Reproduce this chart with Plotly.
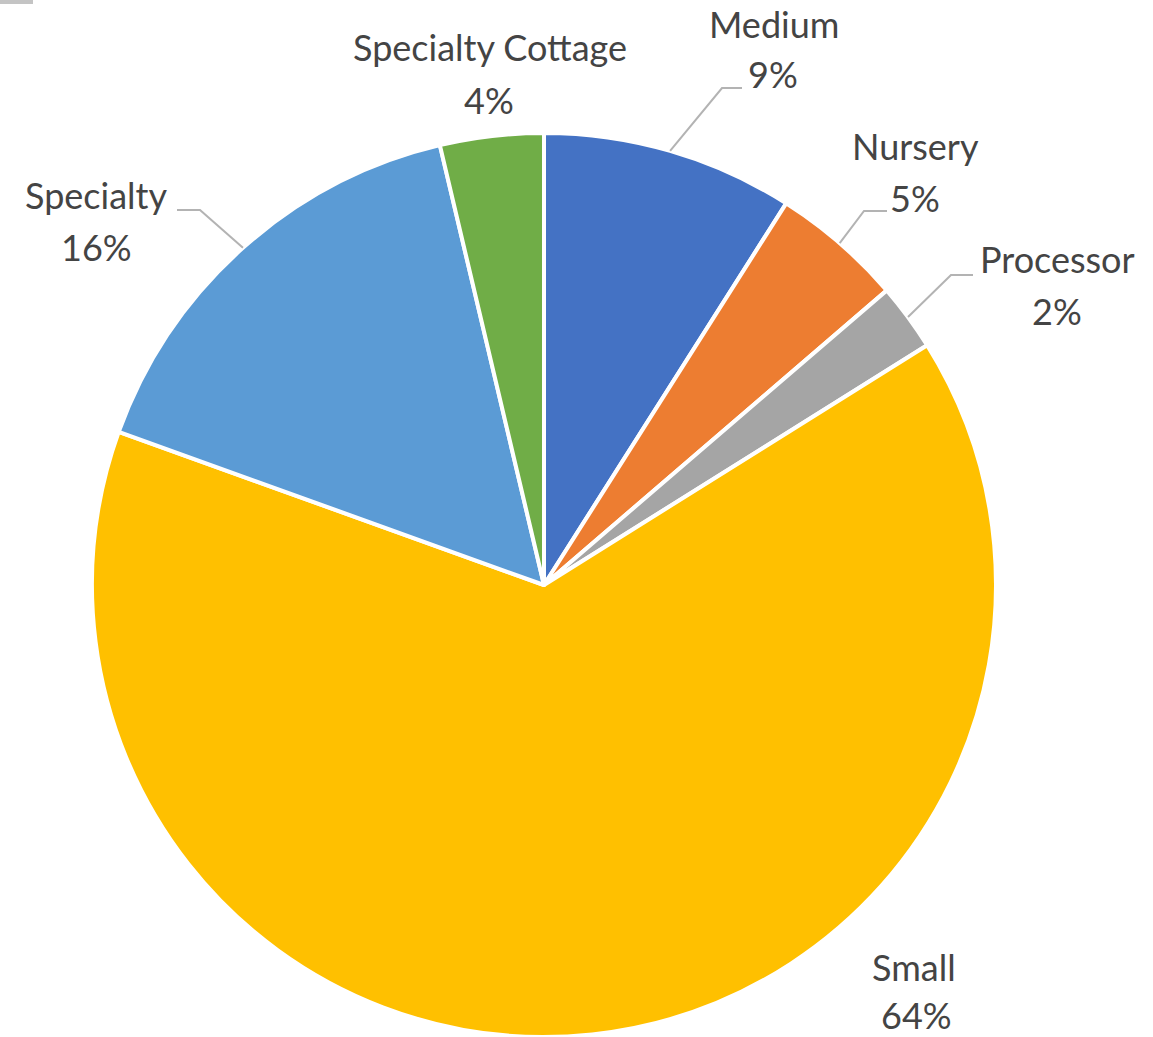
import math
import plotly.graph_objects as go

# Share of operations by category (percent)
categories = ["Medium", "Nursery", "Processor", "Small", "Specialty", "Specialty Cottage"]
shares = [9.0, 4.7, 2.4, 64.4, 15.8, 3.7]
colors = ["#4472C4", "#ED7D31", "#A5A5A5", "#FFC000", "#5B9BD5", "#70AD47"]

W, H = 1153, 1037
CX, CY, R = 544, 585, 452          # pie centre and radius in pixels

# Label placement (pixel centres of the name line and the percent line)
label_pos = {
    "Medium": ((774, 24), (773, 74)),
    "Nursery": ((915, 146), (915, 198)),
    "Processor": ((1057, 259), (1057, 311)),
    "Small": ((914, 967), (916, 1015)),
    "Specialty": ((96, 195), (97, 247)),
    "Specialty Cottage": ((490, 47), (489, 100)),
}
# Leader-line elbows and ends for labels that sit away from their slice
leaders = {
    "Medium": ((722, 88), (742, 88)),
    "Nursery": ((864, 211), (887, 211)),
    "Processor": ((951, 275), (973, 275)),
    "Specialty": ((200, 210), (177, 210)),
}


def px(x):
    return x / W


def py(y):
    return 1 - y / H


fig = go.Figure(
    go.Pie(
        labels=categories,
        values=shares,
        marker=dict(colors=colors, line=dict(color="white", width=4)),
        sort=False,
        direction="clockwise",
        rotation=0,
        textinfo="none",
        hoverinfo="label+percent",
        showlegend=False,
        domain=dict(x=[px(CX - R), px(CX + R)], y=[py(CY + R), py(CY - R)]),
    )
)

font = dict(family="Lato, 'Open Sans', sans-serif", size=36, color="#444444")
total = sum(shares)
annotations = []
shapes = []
cum = 0.0
for name, v in zip(categories, shares):
    mid = (cum + v / 2) / total * 2 * math.pi
    cum += v
    (nx, ny), (vx, vy) = label_pos[name]
    annotations.append(dict(x=px(nx), y=py(ny), xref="paper", yref="paper", text=name,
                            showarrow=False, xanchor="center", yanchor="middle", font=font))
    annotations.append(dict(x=px(vx), y=py(vy), xref="paper", yref="paper",
                            text=f"{round(v / total * 100)}%",
                            showarrow=False, xanchor="center", yanchor="middle", font=font))
    if name in leaders:
        sx = CX + R * math.sin(mid)
        sy = CY - R * math.cos(mid)
        (ex, ey), (tx, ty) = leaders[name]
        path = f"M {px(sx)},{py(sy)} L {px(ex)},{py(ey)} L {px(tx)},{py(ty)}"
        shapes.append(dict(type="path", path=path, xref="paper", yref="paper",
                           line=dict(color="#b3b3b3", width=2)))

# small grey tab in the top-left corner
shapes.append(dict(type="rect", x0=0, x1=px(33), y0=py(4), y1=1, xref="paper", yref="paper",
                   fillcolor="#c4c4c4", line=dict(width=0)))

fig.update_layout(
    width=W, height=H,
    margin=dict(l=0, r=0, t=0, b=0),
    paper_bgcolor="white", plot_bgcolor="white",
    annotations=annotations,
    shapes=shapes,
)

fig.write_html("out.html")
